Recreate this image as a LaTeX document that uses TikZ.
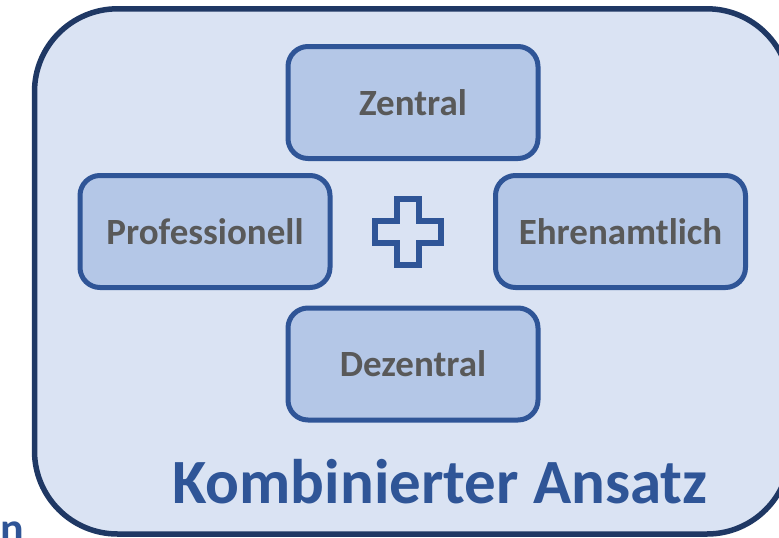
\documentclass[tikz,border=0pt]{standalone}
\usepackage{fontspec}
\setmainfont{Carlito}
\definecolor{outerfill}{HTML}{DAE3F3}
\definecolor{outerline}{HTML}{1F3864}
\definecolor{boxfill}{HTML}{B4C7E7}
\definecolor{boxline}{HTML}{2F5597}
\definecolor{labelgray}{HTML}{595959}
\definecolor{titleblue}{HTML}{2F5597}
\tikzset{
  catbox/.style={draw=boxline, fill=boxfill, line width=5pt, rounded corners=20pt,
    minimum width=250pt, minimum height=112pt, inner sep=0pt,
    text=labelgray, font=\bfseries\fontsize{37}{41}\selectfont},
  titletext/.style={text=titleblue, inner sep=0pt, font=\bfseries\fontsize{63}{70}\selectfont},
  plussign/.style={draw=boxline, line width=6pt, line join=miter}
}
\begin{document}
\begin{tikzpicture}[x=1pt,y=-1pt]
\clip (0,0) rectangle (779,538);
\fill[white] (0,0) rectangle (779,538);
\draw[draw=outerline, fill=outerfill, line width=5.5pt, rounded corners=83pt]
  (34.5,8.8) rectangle (790,534);
\node[catbox] (zentral) at (413,102.5) {Zentral};
\node[catbox] (prof) at (205,231.5) {Professionell};
\node[catbox] (ehren) at (620.5,231.5) {Ehrenamtlich};
\node[catbox] (dezentral) at (413,364) {Dezentral};
\draw[plussign] (397,198.5) -- (419,198.5) -- (419,220.5) -- (441,220.5) -- (441,242.5)
  -- (419,242.5) -- (419,264.5) -- (397,264.5) -- (397,242.5) -- (375,242.5)
  -- (375,220.5) -- (397,220.5) -- cycle;
\node[titletext, anchor=base] (title) at (440,503) {Kombinierter Ansatz};
\node[titletext, anchor=base east, font=\bfseries\fontsize{44}{48}\selectfont] (frag) at (24,543) {n};
\end{tikzpicture}
\end{document}
